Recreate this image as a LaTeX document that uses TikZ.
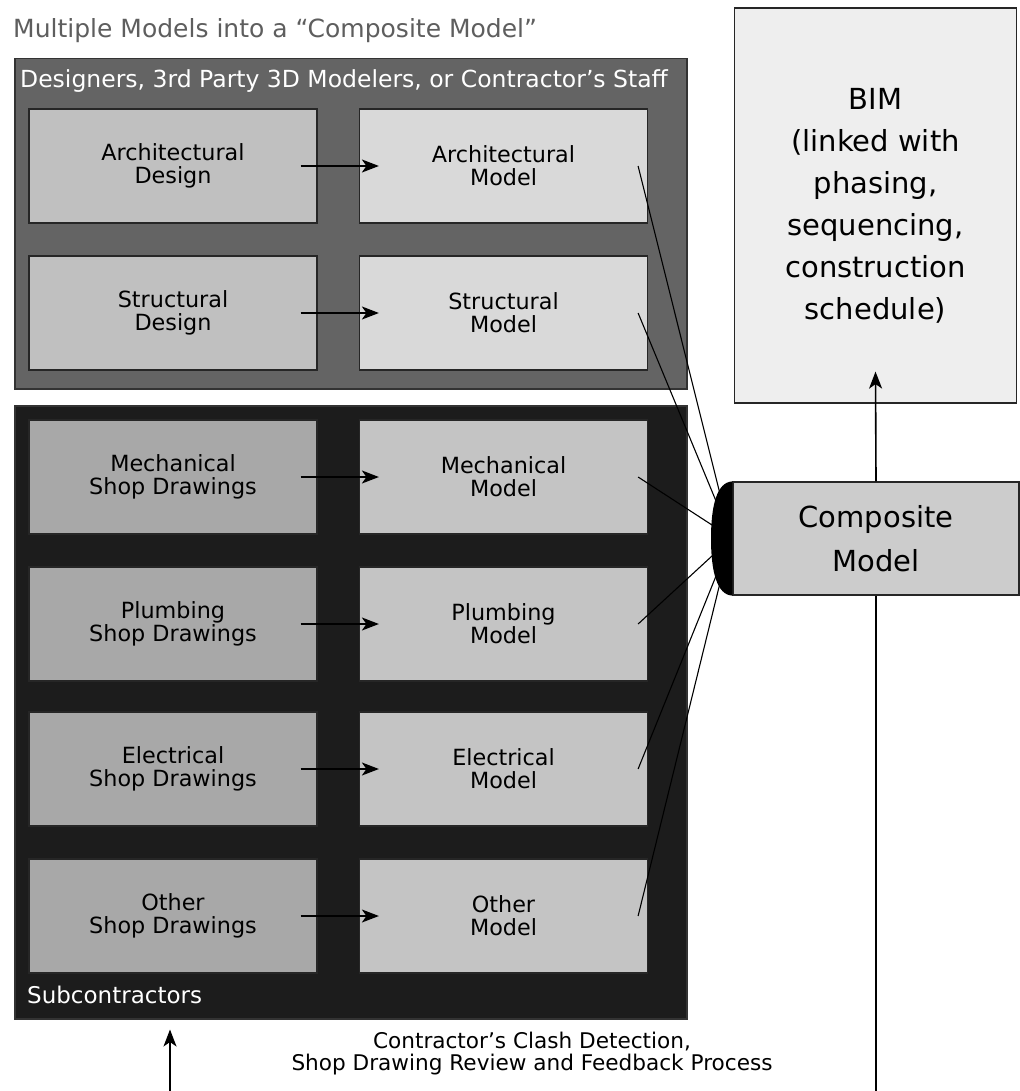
\documentclass[tikz,border=0pt]{standalone}
\usepackage{fontspec}
\setmainfont{DejaVu Sans}
\usetikzlibrary{arrows.meta}

\definecolor{topgrp}{HTML}{646464}
\definecolor{botgrp}{HTML}{1C1C1C}
\definecolor{dsgnfill}{HTML}{C0C0C0}
\definecolor{mdlfill}{HTML}{D9D9D9}
\definecolor{shopfill}{HTML}{A8A8A8}
\definecolor{submdl}{HTML}{C4C4C4}
\definecolor{compfill}{HTML}{CCCCCC}
\definecolor{bimfill}{HTML}{EEEEEE}
\definecolor{titlegray}{HTML}{5E5E5E}

\begin{document}
\begin{tikzpicture}[x=1pt,y=-1pt,
  grp/.style={draw=black!80, line width=1.5pt, anchor=north west, inner sep=0pt},
  grplbl/.style={white, anchor=west, inner sep=0pt},
  box/.style={draw=black!85, line width=1.2pt, minimum width=288pt, minimum height=114pt,
    align=center, inner sep=0pt, font=\fontsize{22.3}{23}\selectfont},
  link/.style={line width=1.1pt},
  flow/.style={line width=1.6pt, -{Stealth[length=17pt,width=13pt,inset=4.5pt]}}]
  \useasboundingbox (0,0) rectangle (1019,1091);
  \fill[white] (0,0) rectangle (1019,1091);

  \node[titlegray, anchor=west, inner sep=0pt, font=\fontsize{25}{27}\selectfont] (title) at (13,31)
    {Multiple Models into a “Composite Model”};

  % the two groups
  \node[grp, fill=topgrp, minimum width=672pt, minimum height=330pt] (top) at (14,58) {};
  \node[grp, fill=botgrp, minimum width=672pt, minimum height=613pt] (bot) at (14,405) {};
  \node[grplbl, font=\fontsize{23.5}{25}\selectfont] (toplbl) at (20,81)
    {Designers, 3rd Party 3D Modelers, or Contractor’s Staff};
  \node[grplbl, font=\fontsize{23}{25}\selectfont] (botlbl) at (27,995) {Subcontractors};

  % composite and BIM
  \node[box, fill=compfill, minimum width=286pt, minimum height=113pt,
    font=\fontsize{29}{44}\selectfont] (comp) at (876,538.5) {Composite\\Model};
  \node[box, fill=bimfill, minimum width=282pt, minimum height=395pt,
    font=\fontsize{29}{42}\selectfont] (bim) at (875.5,205.5)
    {BIM\\(linked with\\phasing,\\sequencing,\\construction\\schedule)};

  % black cap on the composite
  \fill (comp.north west) .. controls (717,482) and (711,505) .. (711,538.5)
    .. controls (711,572) and (717,595) .. (comp.south west) -- cycle;
  \coordinate (cA) at (720,494);
  \coordinate (cS) at (716,501);
  \coordinate (cM) at (712,525);
  \coordinate (cP) at (712,556);
  \coordinate (cE) at (716,576);
  \coordinate (cO) at (720,583);

  % designer rows
  \foreach \nm/\y/\dtxt/\mtxt in {arch/166/{Architectural\\Design}/{Architectural\\Model},
                                  strc/313/{Structural\\Design}/{Structural\\Model}}{
    \node[box, fill=dsgnfill] (\nm-d) at (173,\y) {\dtxt};
    \node[box, fill=mdlfill] (\nm-m) at (503.5,\y) {\mtxt};
    \draw[flow] ([xshift=-17pt]\nm-d.east) -- ([xshift=20pt]\nm-m.west);
  }

  % subcontractor rows
  \foreach \nm/\y/\dtxt/\mtxt in {mech/477/{Mechanical\\Shop Drawings}/{Mechanical\\Model},
                                  plmb/624/{Plumbing\\Shop Drawings}/{Plumbing\\Model},
                                  elec/769/{Electrical\\Shop Drawings}/{Electrical\\Model},
                                  othr/916/{Other\\Shop Drawings}/{Other\\Model}}{
    \node[box, fill=shopfill] (\nm-d) at (173,\y) {\dtxt};
    \node[box, fill=submdl] (\nm-m) at (503.5,\y) {\mtxt};
    \draw[flow] ([xshift=-17pt]\nm-d.east) -- ([xshift=20pt]\nm-m.west);
  }

  % models into the composite
  \draw[link] ([xshift=-10pt]arch-m.east) -- (cA);
  \draw[link] ([xshift=-10pt]strc-m.east) -- (cS);
  \draw[link] ([xshift=-10pt]mech-m.east) -- (cM);
  \draw[link] ([xshift=-10pt]plmb-m.east) -- (cP);
  \draw[link] ([xshift=-10pt]elec-m.east) -- (cE);
  \draw[link] ([xshift=-10pt]othr-m.east) -- (cO);

  % feedback loop
  \coordinate (botR) at (876,1091);
  \coordinate (botL) at (170,1091);
  \draw[flow] (comp.north) -- ([yshift=32pt]bim.south);
  \draw[link] (comp.south) -- (botR);
  \draw[flow] (botL) -- ([yshift=-10pt]bot.south -| botL);
  \node[align=center, inner sep=0pt, font=\fontsize{21.6}{22}\selectfont] (loop) at (532,1054)
    {Contractor’s Clash Detection,\\Shop Drawing Review and Feedback Process};
\end{tikzpicture}
\end{document}
